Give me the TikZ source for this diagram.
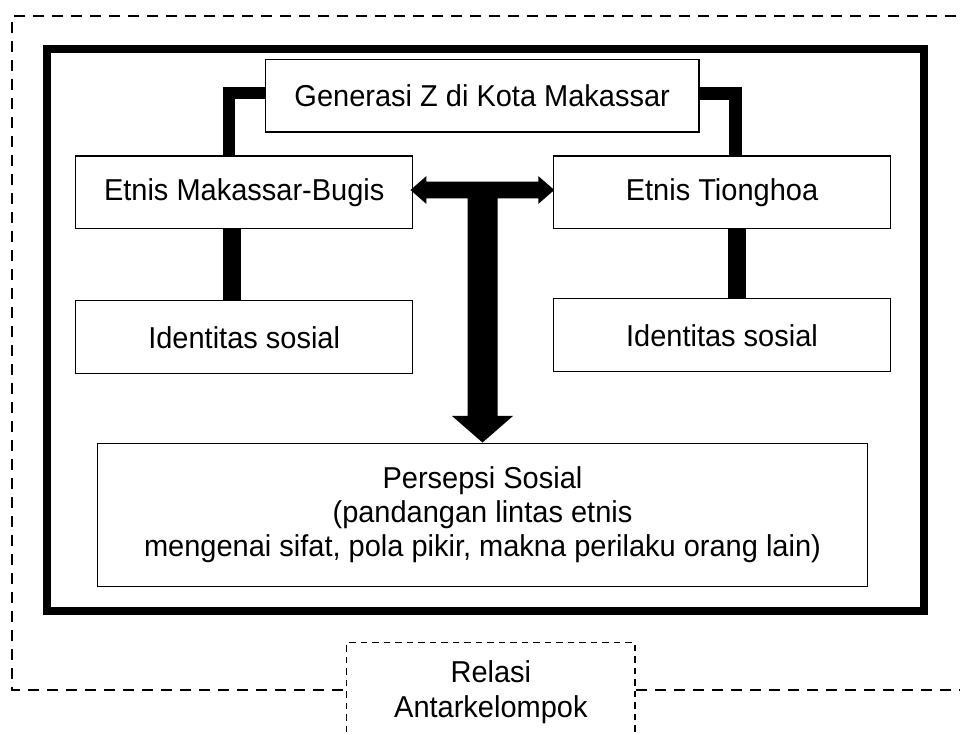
\documentclass[tikz,border=0pt]{standalone}
\usepackage{fontspec}
\setmainfont{Liberation Sans}[FakeStretch=0.96]
\usetikzlibrary{calc}
\begin{document}
\begin{tikzpicture}[x=1pt,y=-1pt,
  box/.style={draw, line width=1.5pt, fill=white, rectangle, align=center, inner sep=0pt,
    font=\fontsize{30.2}{34}\selectfont},
  relbox/.style={draw, line width=1.4pt, dash pattern=on 6.5pt off 5pt, fill=white, rectangle,
    align=center, inner sep=0pt, font=\fontsize{30.2}{35}\selectfont},
  outerdash/.style={line width=2.6pt, dash pattern=on 11pt off 8pt},
  frame/.style={line width=8pt},
  conn/.style={line width=12pt}]
\useasboundingbox (0,0) rectangle (960,734);

% outer dashed boundary
\draw[outerdash] (975,16) -- (12,16) -- (12,690) -- (975,690);

% thick frame
\draw[frame] (47.3,49) rectangle (924.3,611);

% boxes
\node[box, minimum width=433.7pt, minimum height=72.5pt] (gen) at (482.2,95.5) {Generasi Z di Kota Makassar};
\node[box, minimum width=337pt, minimum height=72.3pt] (emb) at (244.2,192.2) {Etnis Makassar-Bugis};
\node[box, minimum width=337.4pt, minimum height=72.3pt] (eth) at (722,192.2) {Etnis Tionghoa};
\node[box, minimum width=337pt, minimum height=73pt] (idl) at (244.2,337.2) {Identitas sosial};
\node[box, minimum width=337.4pt, minimum height=73pt] (idr) at (722,335.2) {Identitas sosial};
\node[box, minimum width=769.6pt, minimum height=143.4pt] (per) at (482.5,515)
  {Persepsi Sosial\\(pandangan lintas etnis\\mengenai sifat, pola pikir, makna perilaku orang lain)};

% relasi box
\node[relbox, minimum width=288.3pt, minimum height=99.6pt] (rel) at (490.85,692.5) {Relasi\\Antarkelompok};

% connectors
\draw[conn] ($(gen.west)+(0,-3)$) -| ($(emb.north)+(-15.7,0)$);
\draw[conn, line width=13pt] ($(gen.east)+(0,-2.5)$) -| ($(eth.north)+(13,0)$);
\draw[conn, line width=18pt] ($(emb.south)+(-12.2,0)$) -- ($(idl.north)+(-12.2,0)$);
\draw[conn, line width=18pt] ($(eth.south)+(14.7,0)$) -- ($(idr.north)+(14.7,0)$);

% double arrow with T stem down to Persepsi
\coordinate (tl) at ($(emb.east)+(-3,-2.2)$);
\coordinate (tr) at ($(eth.west)+(1.7,-2.2)$);
\coordinate (tb) at (per.north);
\coordinate (bandlo) at ($(tl)+(0,8.3)$);
\coordinate (sxr) at ($(tb)+(15,0)$);
\coordinate (sxl) at ($(tb)+(-15,0)$);
\coordinate (hxr) at ($(tb)+(30.5,-26.6)$);
\coordinate (hxl) at ($(tb)+(-30.5,-26.6)$);
\fill (tl) -- ++(16,-14) -- ++(0,5.7) -- ($(tr)+(-16,-8.3)$) -- ++(0,-5.7) -- (tr)
  -- ++(-16,14) -- ++(0,-5.7) -- (sxr |- bandlo) -- (sxr |- hxr) -- (hxr) -- (tb)
  -- (hxl) -- (sxl |- hxl) -- (sxl |- bandlo) -- ($(tl)+(16,8.3)$) -- ++(0,5.7) -- cycle;
\end{tikzpicture}
\end{document}
